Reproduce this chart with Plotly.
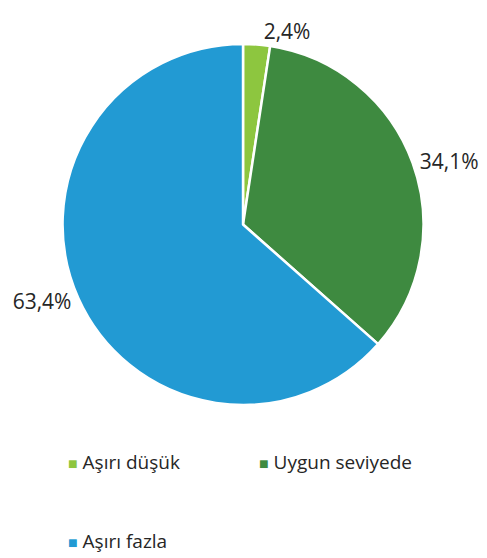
import plotly.graph_objects as go

labels = ["Aşırı düşük", "Uygun seviyede", "Aşırı fazla"]
values = [2.4, 34.1, 63.4]
value_text = ["2,4%", "34,1%", "63,4%"]
colors = ["#8DC63F", "#3E8A40", "#229AD3"]

# page body has a margin, so the figure is a bit smaller than the window
W, H = 487 - 8, 558 - 8
OFFX, OFFY = 12, 12


def fx(x):
    return (x - OFFX) / W


def fy(y):
    return 1 - (y - OFFY) / H


fig = go.Figure(go.Pie(
    labels=labels, values=values, text=value_text,
    texttemplate="%{text}", textposition="outside",
    sort=False, direction="clockwise", rotation=0,
    marker=dict(colors=colors, line=dict(color="white", width=2.5)),
    textfont=dict(family="Open Sans", size=21, color="#262626"),
    domain=dict(x=[fx(50), fx(425)], y=[fy(406), fy(31)]),
    showlegend=False, hoverinfo="label+text",
))

# legend drawn as annotations (two columns, third item on its own row)
leg_pos = [(54, 463), (252, 463), (54, 545)]
for lab, col, (lx, ly) in zip(labels, colors, leg_pos):
    fig.add_annotation(
        x=fx(lx), y=fy(ly), xref="paper", yref="paper",
        xanchor="left", yanchor="middle", showarrow=False,
        text=f"<span style='color:{col};font-size:16px'>■</span> {lab}",
        font=dict(family="Open Sans", size=19, color="#262626"),
    )

fig.update_layout(
    width=W, height=H,
    margin=dict(l=0, r=0, t=0, b=0),
    paper_bgcolor="white", plot_bgcolor="white",
)

fig.write_html("out.html")
